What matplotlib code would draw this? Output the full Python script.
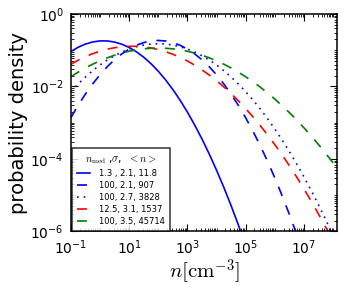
import matplotlib
matplotlib.use("Agg")
import matplotlib.pyplot as plt
from matplotlib.ticker import FixedLocator, NullFormatter

# density grid (cm^-3), quarter-decade steps from 1e-1
n_grid = [0.1, 0.1778, 0.3162, 0.5623, 1.0, 1.778, 3.162, 5.623,
          10.0, 17.78, 31.62, 56.23, 100.0, 177.8, 316.2, 562.3,
          1e3, 1778.0, 3162.0, 5623.0, 1e4, 1.778e4, 3.162e4, 5.623e4,
          1e5, 1.778e5, 3.162e5, 5.623e5, 1e6, 1.778e6, 3.162e6, 5.623e6,
          1e7, 1.778e7, 3.162e7, 5.623e7, 1e8, 1.778e8]

p_13_21 = [0.0918, 0.1204, 0.1476, 0.1689, 0.1807, 0.1803, 0.1682, 0.1465,
           0.1193, 0.0907, 0.0644, 0.0427, 0.0264, 0.0153, 0.00827, 0.004175,
           0.00197, 8.67e-4, 3.57e-4, 1.371e-4, 4.92e-5, 1.65e-5, 5.17e-6,
           1.512e-6, 4.13e-7]
p_100_21 = [1.37e-3, 3.003e-3, 6.15e-3, 1.175e-2, 0.0210, 0.0350, 0.0546,
            0.0794, 0.1079, 0.1370, 0.1625, 0.1800, 0.1862, 0.1800, 0.1625,
            0.1370, 0.1079, 0.0794, 0.0546, 0.0350, 0.0210, 0.01175, 6.15e-3,
            3.003e-3, 1.37e-3, 5.845e-4, 2.33e-4, 8.65e-5, 3.01e-5, 9.75e-6,
            2.96e-6, 8.37e-7, 2.21e-7]
p_100_27 = [7.19e-3, 1.170e-2, 1.824e-2, 2.727e-2, 0.0391, 0.0537, 0.0706,
            0.0892, 0.1079, 0.1251, 0.139, 0.1482, 0.1514, 0.1482, 0.139,
            0.1251, 0.1079, 0.0892, 0.0706, 0.0537, 0.0391, 0.02727, 0.01824,
            0.0117, 7.19e-3, 4.24e-3, 2.39e-3, 1.297e-3, 6.73e-4, 3.347e-4,
            1.60e-4, 7.30e-5, 3.20e-5, 1.344e-5, 5.41e-6, 2.088e-6, 7.73e-7]
p_125_31 = [0.0409, 0.0529, 0.0662, 0.0802, 0.0940, 0.1068, 0.1173, 0.1248,
            0.1285, 0.1281, 0.1236, 0.1154, 0.1043, 0.0913, 0.0774, 0.0634,
            0.0504, 0.0387, 0.0288, 0.02072, 0.01445, 9.745e-3, 6.37e-3,
            4.023e-3, 2.46e-3, 1.459e-3, 8.36e-4, 4.643e-4, 2.49e-4,
            1.297e-4, 6.53e-5, 3.183e-5, 1.50e-5, 6.86e-6, 3.03e-6,
            1.297e-6, 5.37e-7]
p_100_35 = [0.01854, 0.0248, 0.03236, 0.0412, 0.05105, 0.0617, 0.07278,
            0.0837, 0.09376, 0.1024, 0.1091, 0.1133, 0.1148, 0.1133, 0.1091,
            0.1024, 0.09376, 0.0837, 0.07278, 0.0617, 0.05105, 0.0412,
            0.03236, 0.0248, 0.01854, 0.01351, 9.59e-3, 6.645e-3, 4.49e-3,
            2.955e-3, 1.90e-3, 1.187e-3, 7.24e-4, 4.311e-4, 2.50e-4,
            1.414e-4, 7.80e-5, 4.193e-5]

labels = ["1.3 , 2.1, 11.8", "100, 2.1, 907", "100, 2.7, 3828",
          "12.5, 3.1, 1537", "100, 3.5, 45714"]
legend_title = r"$n_{\rm med}$ ,$\sigma$,  $<n>$"

xtick_exps = [-1, 1, 3, 5, 7]
ytick_exps = [0, -2, -4, -6]

plt.rcParams['mathtext.fontset'] = 'cm'
plt.rcParams['font.family'] = 'DejaVu Sans'

fig = plt.figure(figsize=(3.54, 2.91), dpi=100, facecolor='white')
ax = fig.add_axes([0.2, 0.2045, 0.753, 0.7475])

series = [p_13_21, p_100_21, p_100_27, p_125_31, p_100_35]
styles = [dict(color='b', ls='-'),
          dict(color='b', ls=(0, (6, 6))),
          dict(color='b', ls=(0, (1, 3))),
          dict(color='r', ls=(0, (6, 6))),
          dict(color=(0, 0.5, 0), ls=(0, (6, 6)))]
for vals, st, lab in zip(series, styles, labels):
    ax.plot(n_grid[:len(vals)], vals, lw=1.2, label=lab, **st)

ax.set_xscale('log')
ax.set_yscale('log')
ax.set_xlim(0.1, 1.4e8)
ax.set_ylim(1e-6, 1.0)

# ticks
xmaj = [10.0 ** e for e in xtick_exps]
ymaj = [10.0 ** e for e in ytick_exps]
ax.xaxis.set_major_locator(FixedLocator(xmaj))
ax.yaxis.set_major_locator(FixedLocator(ymaj))
xmin = [k * 10.0 ** d for d in range(-1, 9) for k in range(1, 10)
        if not (k == 1 and d in xtick_exps)]
ymin = [k * 10.0 ** d for d in range(-6, 0) for k in range(1, 10)
        if not (k == 1 and d in ytick_exps)]
ax.xaxis.set_minor_locator(FixedLocator(xmin))
ax.yaxis.set_minor_locator(FixedLocator(ymin))
ax.xaxis.set_minor_formatter(NullFormatter())
ax.yaxis.set_minor_formatter(NullFormatter())
ax.set_xticklabels([r"$\mathdefault{10^{%d}}$" % e for e in xtick_exps])
ax.set_yticklabels([r"$\mathdefault{10^{%d}}$" % e for e in ytick_exps])
ax.tick_params(which='both', direction='in', top=True, right=True,
               labelsize=10, color='black')
ax.tick_params(which='major', length=5, width=0.8, pad=5)
ax.tick_params(which='minor', length=2.5, width=0.6)
for sp in ax.spines.values():
    sp.set_linewidth(1.1)

ax.set_ylabel("probability density", fontsize=14, labelpad=2)
ax.set_xlabel(r"$n[\mathrm{cm}^{-3}]$", fontsize=15, labelpad=0)

leg = ax.legend(loc='lower left', title=legend_title, fontsize=6,
                title_fontsize=7.5, frameon=True, fancybox=False,
                edgecolor='black', borderaxespad=0.1, borderpad=0.6,
                handlelength=1.6, handletextpad=1.1, labelspacing=0.35)
leg.get_frame().set_linewidth(1.1)

fig.savefig("out.png", dpi=100, facecolor='white')
